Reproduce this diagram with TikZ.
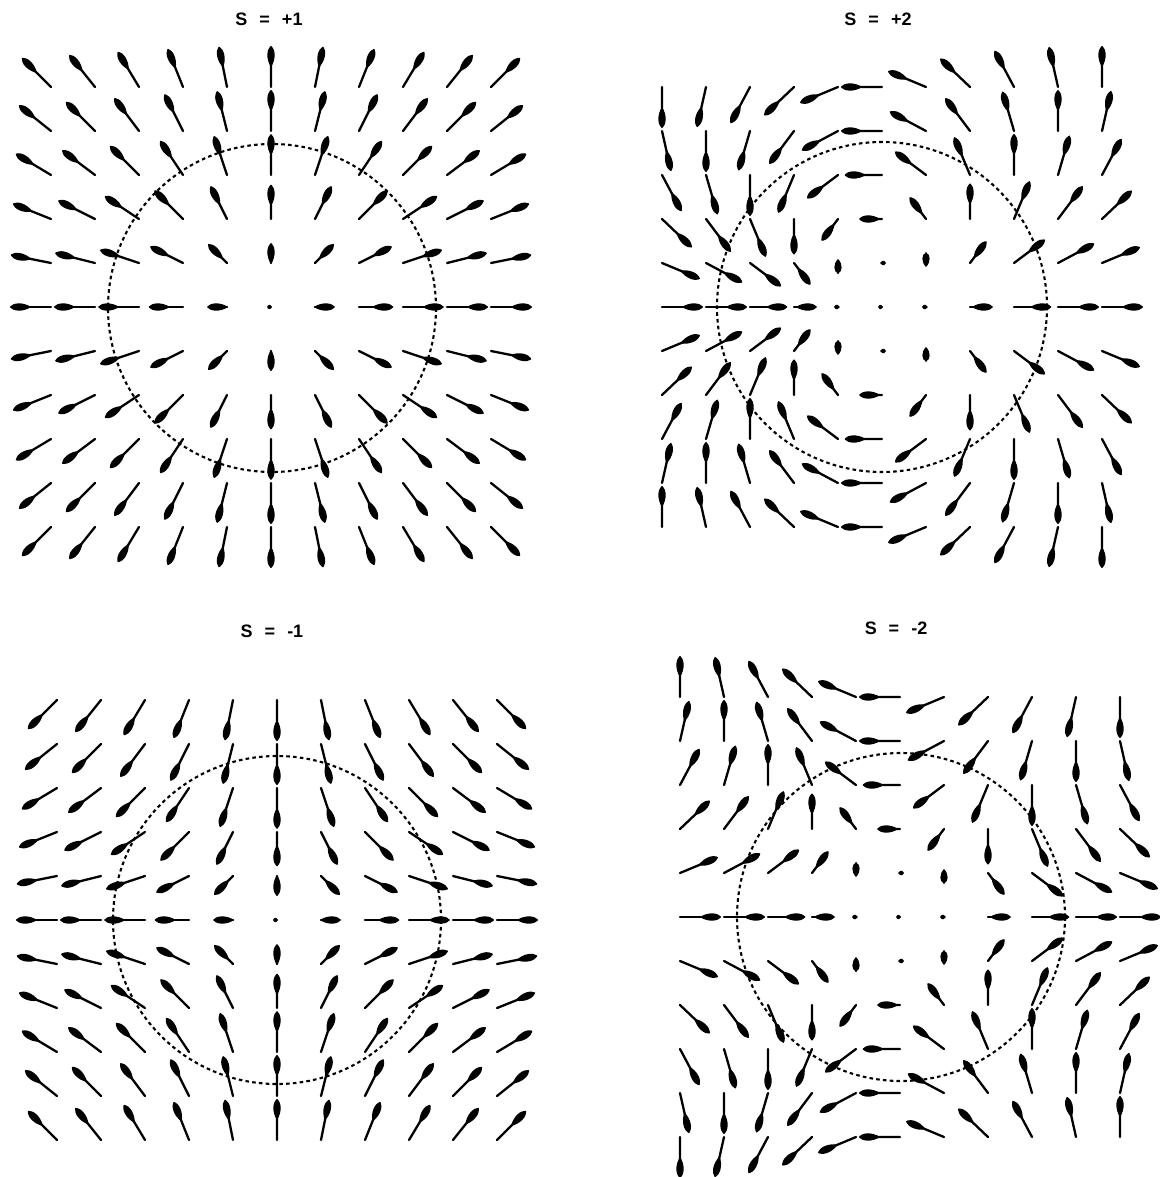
\documentclass[tikz,border=0pt]{standalone}
\usepackage{fontspec}
\setmainfont{Liberation Sans}
\tikzset{
  vline/.style={line width=1.15pt, line cap=round},
  vhead/.style={fill=black},
  core/.style={line width=1.05pt, dash pattern=on 1.8pt off 1.6pt},
  ttl/.style={font=\fontsize{9}{11}\selectfont\bfseries, inner sep=0pt}
}
% #1,#2 centre (px), #3 charge S, #4 profile type (1 or 2)
\newcommand\vecfield[4]{%
  \foreach \i in {-5,...,5}{%
    \foreach \j in {-5,...,5}{%
      \pgfmathsetmacro\vrr{sqrt(\i*\i+\j*\j)}%
      \pgfmathsetmacro\vph{atan2(\j,\i+0.0001)}%
      \pgfmathsetmacro\vang{#3*\vph}%
      \pgfmathsetmacro\vth{#4==1 ? 90*min(\vrr/3.2,1) : 90*min(max((\vrr-0.97)/2.8,0),1)}%
      \pgfmathsetmacro\vlen{40*sin(\vth)}%
      \pgfmathsetmacro\vbb{4+min(\vlen,16)}%
      \pgfmathsetmacro\vww{min(3.7,2.2+0.15*\vlen)}%
      \pgfmathsetmacro\vhh{\vww/0.72}%
      \begin{scope}[shift={(#1+\i*44,#2+\j*44)}, rotate=\vang]
        \draw[vline] (0,0) -- (\vlen,0);
        \fill[vhead] (\vlen-\vbb,0) .. controls (\vlen-0.62*\vbb,\vhh) and (\vlen-0.08*\vbb,0.9*\vhh) .. (\vlen+0.6,0)
             .. controls (\vlen-0.08*\vbb,-0.9*\vhh) and (\vlen-0.62*\vbb,-\vhh) .. (\vlen-\vbb,0) -- cycle;
      \end{scope}
    }%
  }%
}
\begin{document}
\begin{tikzpicture}[x=0.5pt,y=0.5pt]
\useasboundingbox (0,0) rectangle (1160,-1177);
% titles
\node[ttl] (t1) at (269,-19) {S\hspace{6pt}=\hspace{6pt}+1};
\node[ttl] (t2) at (878,-19) {S\hspace{6pt}=\hspace{6pt}+2};
\node[ttl] (t3) at (272,-631) {S\hspace{6pt}=\hspace{6pt}-1};
\node[ttl] (t4) at (896,-628) {S\hspace{6pt}=\hspace{6pt}-2};
% fields
\vecfield{271}{-307}{1}{1}
\vecfield{882}{-307}{2}{2}
\vecfield{277}{-920}{-1}{1}
\vecfield{900}{-917}{-2}{2}
% core circles
\draw[core] (272,-308) circle[radius=164];
\draw[core] (882,-307) circle[radius=165];
\draw[core] (277,-920) circle[radius=164];
\draw[core] (901,-917) circle[radius=164];
\end{tikzpicture}
\end{document}
